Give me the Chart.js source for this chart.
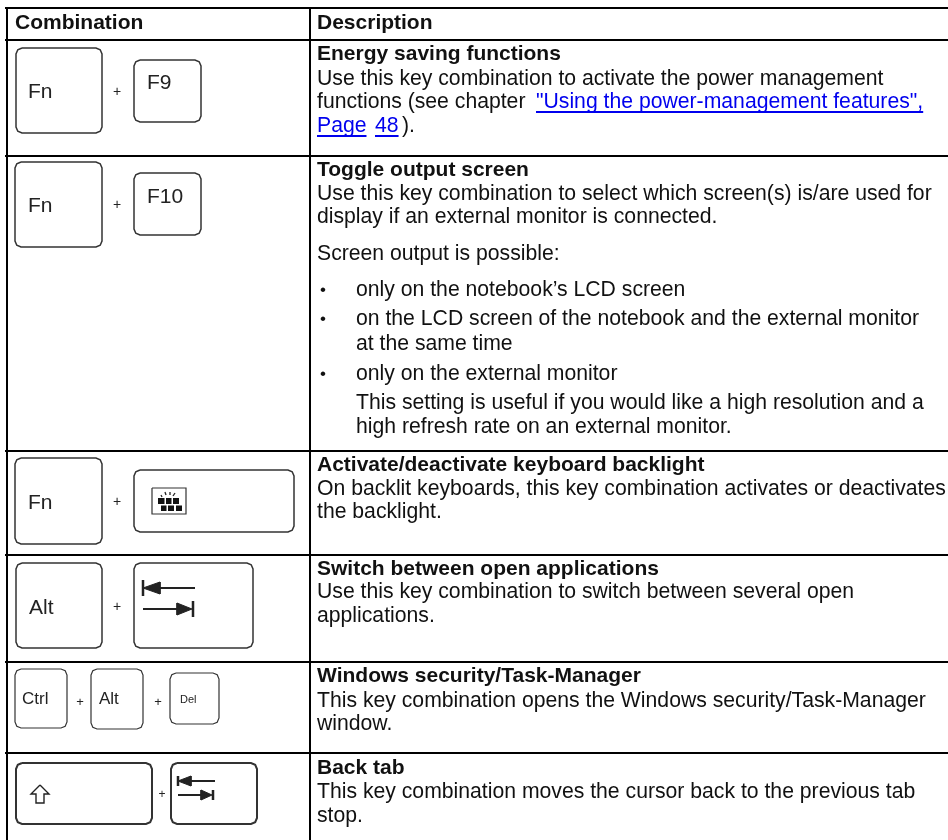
<!DOCTYPE html>
<html>
<head>
<meta charset="utf-8">
<style>
  html, body { margin: 0; padding: 0; background: #fff; }
  canvas { display: block; }
</style>
<script src="https://cdn.jsdelivr.net/npm/chart.js@4/dist/chart.umd.js"></script>
</head>
<body>
<canvas id="myChart" width="948" height="840"></canvas>
<script>
// table text
const headers = ['Combination', 'Description'];
const titles = [
  'Energy saving functions',
  'Toggle output screen',
  'Activate/deactivate keyboard backlight',
  'Switch between open applications',
  'Windows security/Task-Manager',
  'Back tab'
];
const bodyLines = [
  'Use this key combination to activate the power management',
  'functions (see chapter ',
  ').',
  'Use this key combination to select which screen(s) is/are used for',
  'display if an external monitor is connected.',
  'Screen output is possible:',
  'On backlit keyboards, this key combination activates or deactivates',
  'the backlight.',
  'Use this key combination to switch between several open',
  'applications.',
  'This key combination opens the Windows security/Task-Manager',
  'window.',
  'This key combination moves the cursor back to the previous tab',
  'stop.'
];
const bulletLines = [
  'only on the notebook\u2019s LCD screen',
  'on the LCD screen of the notebook and the external monitor',
  'at the same time',
  'only on the external monitor',
  'This setting is useful if you would like a high resolution and a',
  'high refresh rate on an external monitor.'
];
const linkLines = ['"Using the power-management features",', 'Page', '48'];
const keyLabels = ['Fn', 'F9', 'Fn', 'F10', 'Fn', 'Alt', 'Ctrl', 'Alt', 'Del'];
const plusSigns = ['+', '+', '+', '+', '+', '+', '+'];

// positions on the x/y axes, in table units
const headerY = [29, 29];
const headerX = [15, 317];
const titleY = [60, 176, 471, 575, 682, 774];
const bodyX = [317, 317, 402, 317, 317, 317, 317, 317, 317, 317, 317, 317, 317, 317];
const bodyY = [85, 108, 132, 200, 223, 260, 495, 518, 598, 622, 707, 730, 798, 822];
const bulletTextX = [356, 356, 356, 356, 356, 356];
const bulletTextY = [296, 325, 350, 380, 409, 433];
const bulletDotY = [295, 324, 379];
const linkX = [536, 317, 375];
const linkY = [108, 132, 132];
const keyLabelX = [28, 147, 28, 147, 28, 29, 22, 99, 180];
const keyLabelY = [98, 89, 212, 203, 509, 614, 704, 704, 703];
const keyLabelSize = [21, 21, 21, 21, 21, 21, 17, 17, 11];
const plusX = [117, 117, 117, 117, 80, 158, 162];
const plusY = [96, 209, 506, 611, 706, 706, 798];
const plusSize = [14, 14, 14, 14, 13, 13, 12];

const rowRulesY = [8, 40, 156, 451, 555, 662, 753];
const columnRulesX = [7, 310];
const keyLeft = [16, 134, 15, 134, 15, 134, 16, 134, 15, 91, 170, 16, 171];
const keyTop = [48, 60, 162, 173, 458, 470, 563, 563, 669, 669, 673, 763, 763];
const keyRight = [102, 201, 102, 201, 102, 294, 102, 253, 67, 143, 219, 152, 257];
const keyBottom = [133, 122, 247, 235, 544, 532, 648, 648, 728, 729, 724, 824, 824];
const keyWeight = [1.5, 1.5, 1.5, 1.5, 1.5, 1.5, 1.5, 1.5, 1.2, 1.2, 1.2, 2, 2];

// tab arrows on the two tab keys
const arrowShafts = [
  [[150, 588], [195, 588]], [[143, 609], [180, 609]],
  [[183, 781], [215, 781]], [[178, 795], [205, 795]]
];
const arrowHeads = [
  [[143, 588], [160, 582], [160, 594]], [[192, 609], [177, 603], [177, 615]],
  [[178, 781], [191, 776], [191, 786]], [[212, 795], [201, 790], [201, 800]]
];
const arrowBars = [
  [[143, 580], [143, 596]], [[193, 601], [193, 617]],
  [[178, 776], [178, 786]], [[213, 790], [213, 800]]
];
const shiftArrow = [[40, 785], [31, 794], [36, 794], [36, 803], [44, 803], [44, 794], [49, 794], [40, 785]];

// keyboard light icon
const iconBox = [[152, 488], [186, 488], [186, 514], [152, 514], [152, 488]];
const iconBlocks = [
  [158, 498, 164.5, 504], [166, 498, 171.5, 504], [173, 498, 179, 504],
  [161, 505.5, 166.5, 511], [168, 505.5, 174, 511], [176, 505.5, 182, 511]
];
const iconSparks = [
  [[161, 495], [162, 497]], [[165, 492], [166, 495]],
  [[170, 492], [170, 495]], [[175, 493], [173, 496]]
];

const ink = '#111111';
const keyInk = '#333333';
const linkBlue = '#0000ee';
const fontFamily = '"Liberation Sans", Arial, sans-serif';

function lineSet(points, color, width, filled) {
  return {
    data: points.map(p => ({ x: p[0], y: p[1] })),
    showLine: true,
    pointRadius: 0,
    borderColor: color,
    borderWidth: width,
    backgroundColor: color,
    fill: filled ? 'shape' : false,
    tension: 0
  };
}

// rounded key outline
function keyOutline(l, t, r, b) {
  const c = 6;
  const k = 1.8; // corner cut
  return [
    [l + c, t], [r - c, t], [r - k, t + k], [r, t + c],
    [r, b - c], [r - k, b - k], [r - c, b],
    [l + c, b], [l + k, b - k], [l, b - c],
    [l, t + c], [l + k, t + k], [l + c, t]
  ];
}

const datasets = [];
rowRulesY.forEach(y => datasets.push(lineSet([[5, y], [948, y]], '#000', 2)));
columnRulesX.forEach(x => datasets.push(lineSet([[x, 8], [x, 840]], '#000', 2)));
keyLeft.forEach((l, i) => {
  datasets.push(lineSet(keyOutline(l, keyTop[i], keyRight[i], keyBottom[i]), keyInk, keyWeight[i]));
});
arrowShafts.forEach(p => datasets.push(lineSet(p, '#222', 2)));
arrowHeads.forEach(p => datasets.push(lineSet(p.concat([p[0]]), '#222', 1, true)));
arrowBars.forEach(p => datasets.push(lineSet(p, '#222', 2.5)));
datasets.push(lineSet(shiftArrow, '#222', 1.4));
datasets.push(lineSet(iconBox, '#333', 1.2));
iconBlocks.forEach(b => {
  datasets.push(lineSet([[b[0], b[1]], [b[2], b[1]], [b[2], b[3]], [b[0], b[3]], [b[0], b[1]]], '#111', 0, true));
});
iconSparks.forEach(p => datasets.push(lineSet(p, '#222', 1.3)));

// writes the table text through the axes
const tableText = {
  id: 'tableText',
  afterDatasetsDraw(chart) {
    const ctx = chart.ctx;
    const sx = chart.scales.x;
    const sy = chart.scales.y;
    ctx.save();
    ctx.textBaseline = 'alphabetic';
    ctx.textAlign = 'left';

    function put(text, x, y, font, color) {
      ctx.font = font;
      ctx.fillStyle = color;
      ctx.fillText(text, sx.getPixelForValue(x), sy.getPixelForValue(y));
    }

    const bold = 'bold 21px ' + fontFamily;
    const normal = '21.2px ' + fontFamily;
    headers.forEach((t, i) => put(t, headerX[i], headerY[i], bold, ink));
    titles.forEach((t, i) => put(t, 317, titleY[i], bold, ink));
    bodyLines.forEach((t, i) => put(t, bodyX[i], bodyY[i], normal, ink));
    bulletLines.forEach((t, i) => put(t, bulletTextX[i], bulletTextY[i], normal, ink));
    bulletDotY.forEach(y => put('\u2022', 320, y, '17px ' + fontFamily, ink));
    linkLines.forEach((t, i) => {
      put(t, linkX[i], linkY[i], normal, linkBlue);
      const x0 = sx.getPixelForValue(linkX[i]);
      const y0 = sy.getPixelForValue(linkY[i]) + 3;
      ctx.fillRect(x0, y0, ctx.measureText(t).width, 2);
    });
    keyLabels.forEach((t, i) => {
      put(t, keyLabelX[i], keyLabelY[i], keyLabelSize[i] + 'px ' + fontFamily, '#222');
    });
    plusSigns.forEach((t, i) => {
      ctx.font = plusSize[i] + 'px ' + fontFamily;
      ctx.fillStyle = '#222';
      ctx.textAlign = 'center';
      ctx.fillText(t, sx.getPixelForValue(plusX[i]), sy.getPixelForValue(plusY[i]));
      ctx.textAlign = 'left';
    });
    ctx.restore();
  }
};

new Chart(document.getElementById('myChart'), {
  type: 'scatter',
  data: { datasets: datasets },
  options: {
    responsive: false,
    animation: false,
    layout: { padding: 0 },
    plugins: { legend: { display: false }, tooltip: { enabled: false } },
    scales: {
      x: { type: 'linear', min: 0, max: 948, display: false },
      y: { type: 'linear', min: 0, max: 840, reverse: true, display: false }
    }
  },
  plugins: [tableText]
});
</script>
</body>
</html>
